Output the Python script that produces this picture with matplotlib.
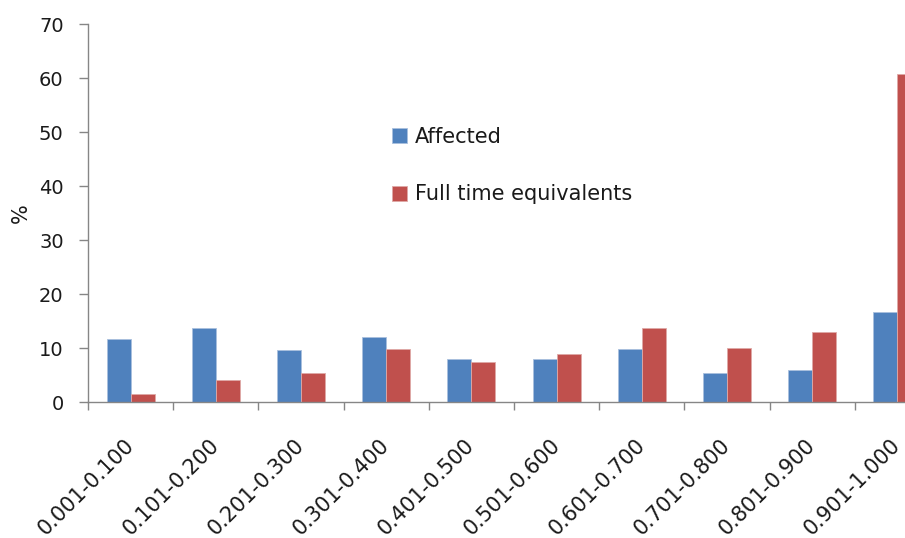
import numpy as np
import matplotlib
matplotlib.use("Agg")
import matplotlib.pyplot as plt

plt.rcParams['font.family'] = ['DejaVu Sans']

categories = ["0.001-0.100", "0.101-0.200", "0.201-0.300", "0.301-0.400", "0.401-0.500",
              "0.501-0.600", "0.601-0.700", "0.701-0.800", "0.801-0.900", "0.901-1.000"]
affected = [11.7, 13.7, 9.6, 12.0, 7.9, 7.9, 9.8, 5.3, 6.0, 16.7]
full_time = [1.5, 4.0, 5.3, 9.8, 7.5, 8.9, 13.7, 10.1, 12.9, 60.8]

blue = '#4F81BD'
red = '#C0504D'
axis_grey = '#868686'
text_col = '#1a1a1a'

fig = plt.figure(figsize=(9.05, 5.38), dpi=100)
# the chart is cut off on the right, so the axes run past the figure edge
ax = fig.add_axes([88 / 905, 136 / 538, 852 / 905, 377.7 / 538])

x = np.arange(len(categories))
w = 0.282
ax.bar(x - w / 2, affected, w, color=blue, edgecolor='#a9c0de', linewidth=0.6, label='Affected')
ax.bar(x + w / 2, full_time, w, color=red, edgecolor='#dea9a7', linewidth=0.6, label='Full time equivalents')

ax.set_xlim(-0.5, len(categories) - 0.5)
ax.set_ylim(0, 70)
ax.set_yticks(np.arange(0, 71, 10))

ax.set_xticks(x)
ax.set_xticklabels(categories, rotation=45, ha='right', va='center', rotation_mode='anchor',
                   fontsize=15, color=text_col)
ax.set_xticks(np.arange(-0.5, len(categories), 1), minor=True)
ax.tick_params(axis='x', which='major', length=0, pad=29)
ax.tick_params(axis='x', which='minor', length=5.5, width=1, color=axis_grey)
ax.tick_params(axis='y', length=6.5, width=1, color=axis_grey, pad=11, labelsize=14, labelcolor=text_col)

for side in ['top', 'right']:
    ax.spines[side].set_visible(False)
for side in ['left', 'bottom']:
    ax.spines[side].set_color(axis_grey)
    ax.spines[side].set_linewidth(1)

ax.set_ylabel('%', fontsize=15, labelpad=6, color=text_col)

leg = fig.legend(loc='upper left', bbox_to_anchor=(392 / 905, 1 - 127 / 538), frameon=False,
                 fontsize=15, handlelength=0.7, handleheight=0.7, handletextpad=0.4,
                 labelspacing=1.8, borderpad=0, borderaxespad=0)
for t in leg.get_texts():
    t.set_color(text_col)

fig.savefig('out.png', dpi=100)
